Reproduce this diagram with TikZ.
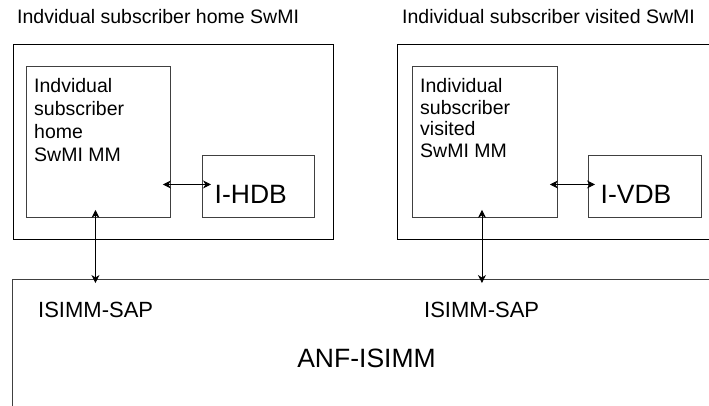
\documentclass[tikz,border=0pt]{standalone}
\usepackage{fontspec}
\setmainfont{Liberation Sans}
\usetikzlibrary{arrows.meta}
\tikzstyle{swmibox}=[draw,line width=0.9pt,inner sep=0pt,anchor=north west]
\tikzstyle{mmbox}=[draw=black!75,line width=0.9pt,inner sep=0pt,anchor=north west]
\tikzstyle{edge} = [draw,line width=0.8pt,{Stealth[length=8pt,width=8pt,inset=2.5pt]}-{Stealth[length=8pt,width=8pt,inset=2.5pt]}]
\tikzstyle{title}=[inner sep=0pt,anchor=base west,font=\fontsize{19.5}{23}\selectfont]
\tikzstyle{mmtext}=[inner sep=0pt,anchor=north west,align=left]
\tikzstyle{dbtext}=[inner sep=0pt,anchor=base west,font=\fontsize{26.5}{30}\selectfont]
\tikzstyle{saptext}=[inner sep=0pt,anchor=base west,font=\fontsize{22}{26}\selectfont]

\begin{document}
\begin{tikzpicture}[x=1pt,y=-1pt]

    \useasboundingbox (0,0) rectangle (709,405);
    \clip (0,0) rectangle (709,405);

    % access network box
    \node[mmbox, minimum width=720pt, minimum height=150pt] (anf) at (12,279) {};
    \node[inner sep=0pt, anchor=base, font=\fontsize{26.5}{30}\selectfont] (anftext) at (366.5,367) {ANF-ISIMM};

    \def\dx{0};

    \node[title] (htitle) at (17+\dx,23) {Indvidual subscriber home SwMI};
    \node[swmibox, minimum width=320pt, minimum height=195pt] (hswmi) at (13+\dx,44) {};
    \node[mmbox, minimum width=144pt, minimum height=151pt] (hmm) at (26+\dx,66) {};
    \node[mmtext, font=\fontsize{19.5}{23}\selectfont] (hmmtext) at (34+\dx,78) {Indvidual\\subscriber\\home\\SwMI MM};
    \node[mmbox, minimum width=112pt, minimum height=62pt] (hdb) at (202+\dx,155) {};
    \node[dbtext] (hdbtext) at (214.5+\dx,203) {I-HDB};
    \node[saptext] (hsap) at (38+\dx,317) {ISIMM-SAP};

        \path[edge, shorten <=-8pt, shorten >=-9pt] ([yshift=2pt]hmm.east |- hdb.west) -- ([yshift=2pt]hdb.west);
        \path[edge, shorten <=-8pt, shorten >=-4pt] ([xshift=-3pt]hmm.south) -- ([xshift=-3pt]hmm.south |- anf.north);

    \def\dx{386};

    \node[title] (vtitle) at (16+\dx,23) {Individual subscriber visited SwMI};
    \node[swmibox, minimum width=340pt, minimum height=195pt] (vswmi) at (11+\dx,44) {};
    \node[mmbox, minimum width=145pt, minimum height=151pt] (vmm) at (26+\dx,66) {};
    \node[mmtext, font=\fontsize{19.5}{21.7}\selectfont] (vmmtext) at (34+\dx,78) {Individual\\subscriber\\visited\\SwMI MM};
    \node[mmbox, minimum width=113pt, minimum height=62pt] (vdb) at (202+\dx,155) {};
    \node[dbtext] (vdbtext) at (214.5+\dx,203) {I-VDB};
    \node[saptext] (vsap) at (38+\dx,317) {ISIMM-SAP};

        \path[edge, shorten <=-8pt, shorten >=-7pt] ([yshift=2pt]vmm.east |- vdb.west) -- ([yshift=2pt]vdb.west);
        \path[edge, shorten <=-8pt, shorten >=-4pt] ([xshift=-3pt]vmm.south) -- ([xshift=-3pt]vmm.south |- anf.north);

\end{tikzpicture}
\end{document}
